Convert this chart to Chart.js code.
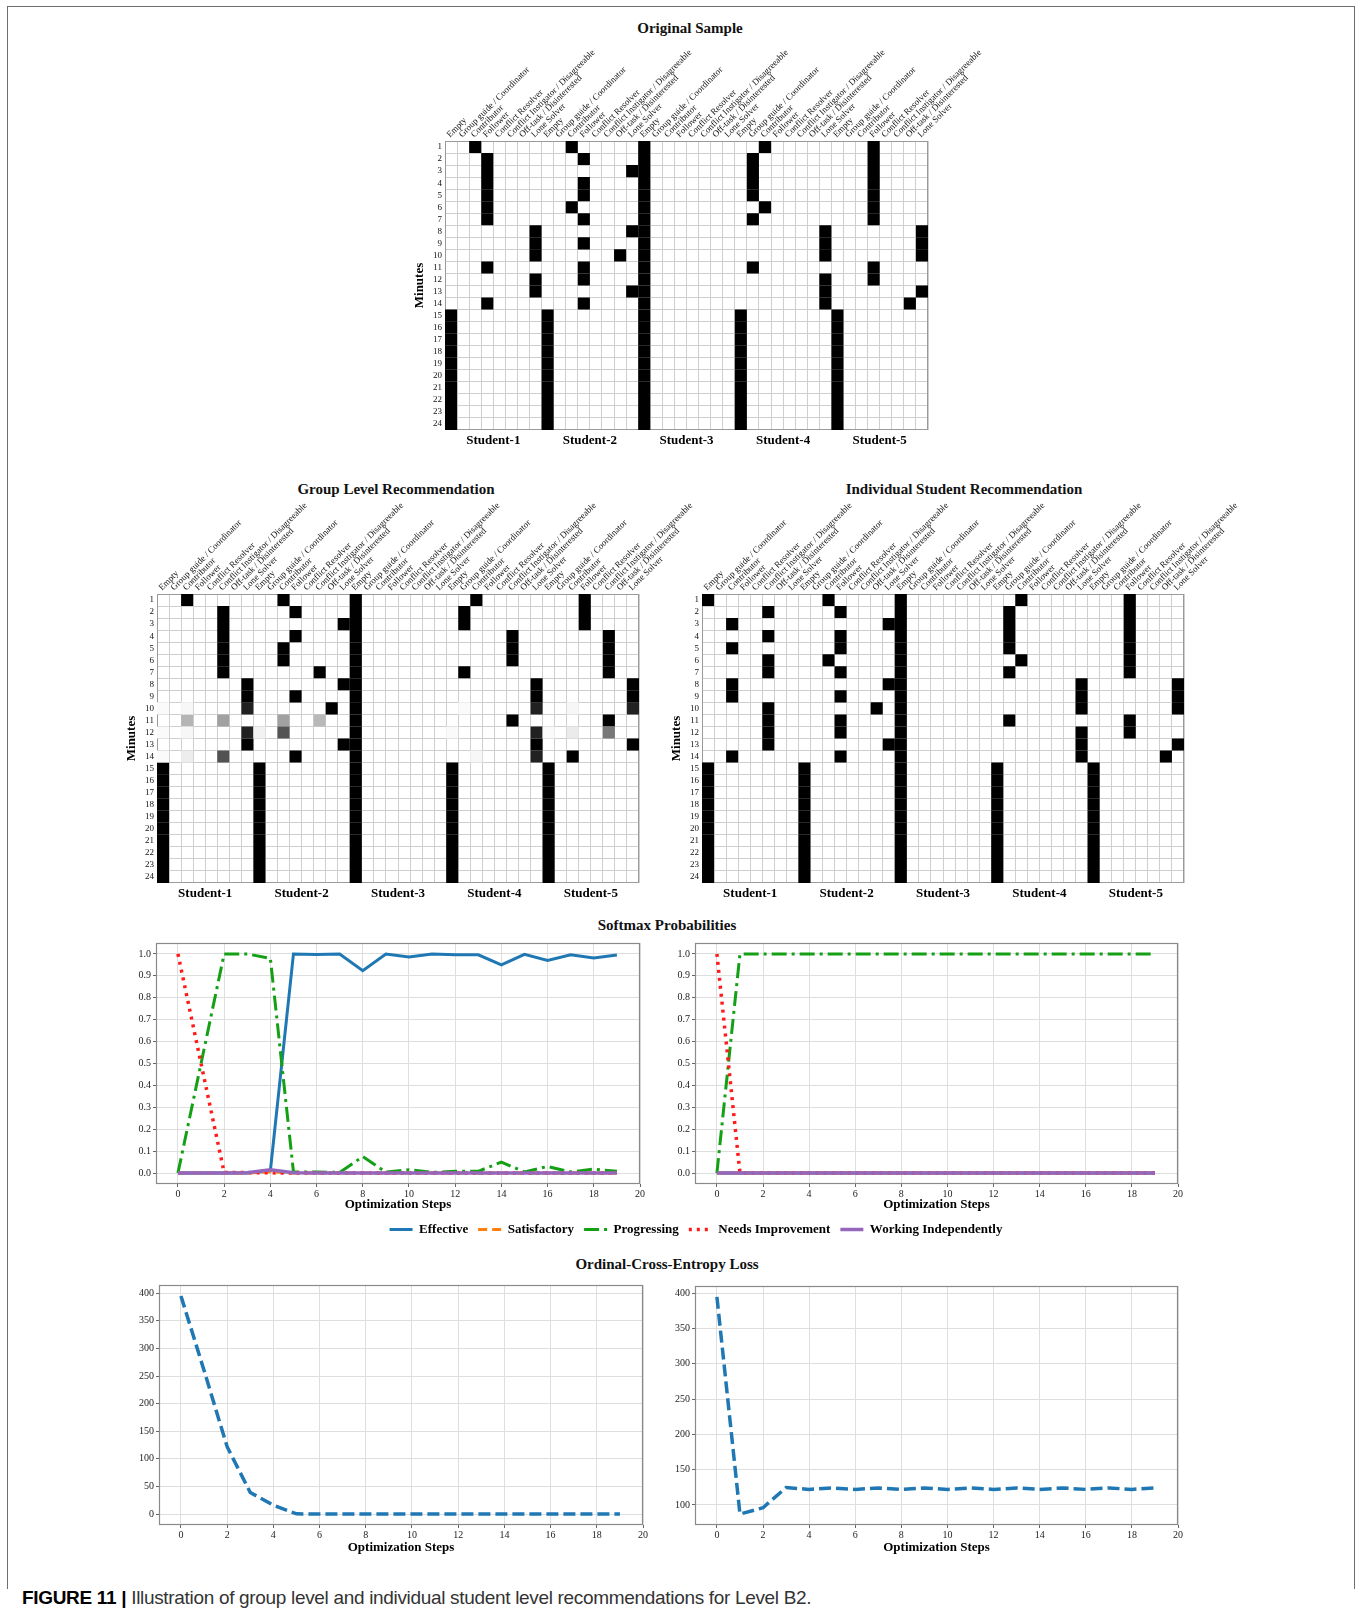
<!DOCTYPE html>
<html>
<head>
<meta charset="utf-8">
<title>Figure 11 - recommendations for Level B2</title>
<script src="https://cdn.jsdelivr.net/npm/chart.js@4.4.1/dist/chart.umd.min.js"></script>
<style>
    html, body { margin: 0; padding: 0; background: #fff; }
    body { position: relative; width: 1362px; height: 1614px; overflow: hidden; }
    canvas { position: absolute; }
    .title { position: absolute; transform: translate(-50%, -50%); font: bold 15px 'Liberation Serif', serif; color: #111; white-space: nowrap; }
    #frame { position: absolute; left: 7px; top: 6px; width: 1346px; height: 1582px; border: 1.5px solid #6e6e6e; border-bottom: none; }
    #caption { position: absolute; left: 22px; top: 1587px; font: 19px 'Liberation Sans Narrow', 'Liberation Sans', sans-serif; letter-spacing: -0.32px; color: #333; white-space: nowrap; }
    #caption b { color: #000; }
</style>
</head>
<body>
<div id="frame"></div>

<div class="title" style="left:690px; top:28px">Original Sample</div>
<div class="title" style="left:396px; top:489px">Group Level Recommendation</div>
<div class="title" style="left:964px; top:489px">Individual Student Recommendation</div>
<div class="title" style="left:667px; top:925px">Softmax Probabilities</div>
<div class="title" style="left:667px; top:1264px">Ordinal-Cross-Entropy Loss</div>

<canvas id="origChart"></canvas>
<canvas id="groupChart"></canvas>
<canvas id="indivChart"></canvas>
<canvas id="probGroupChart"></canvas>
<canvas id="probIndivChart"></canvas>
<canvas id="legendChart"></canvas>
<canvas id="lossGroupChart"></canvas>
<canvas id="lossIndivChart"></canvas>

<div id="caption"><b>FIGURE 11 |</b> Illustration of group level and individual student level recommendations for Level B2.</div>

<script>
// ===================== DATA =====================
const roles = ['Empty', 'Group guide / Coordinator', 'Contributor', 'Follower', 'Conflict Resolver',
    'Conflict Instigator / Disagreeable', 'Off-task / Disinterested', 'Lone Solver'];
const students = ['Student-1', 'Student-2', 'Student-3', 'Student-4', 'Student-5'];
const minutes = ['1', '2', '3', '4', '5', '6', '7', '8', '9', '10', '11', '12',
    '13', '14', '15', '16', '17', '18', '19', '20', '21', '22', '23', '24'];

// role index (into roles) filled for each student at each minute, null = no full cell
const origS1 = [2, 3, 3, 3, 3, 3, 3, 7, 7, 7, 3, 7, 7, 3, 0, 0, 0, 0, 0, 0, 0, 0, 0, 0];
const origS2 = [2, 3, 7, 3, 3, 2, 3, 7, 3, 6, 3, 3, 7, 3, 0, 0, 0, 0, 0, 0, 0, 0, 0, 0];
const origS3 = [0, 0, 0, 0, 0, 0, 0, 0, 0, 0, 0, 0, 0, 0, 0, 0, 0, 0, 0, 0, 0, 0, 0, 0];
const origS4 = [2, 1, 1, 1, 1, 2, 1, 7, 7, 7, 1, 7, 7, 7, 0, 0, 0, 0, 0, 0, 0, 0, 0, 0];
const origS5 = [3, 3, 3, 3, 3, 3, 3, 7, 7, 7, 3, 3, 7, 6, 0, 0, 0, 0, 0, 0, 0, 0, 0, 0];

const groupS1 = [2, 5, 5, 5, 5, 5, 5, 7, 7, null, null, null, 7, null, 0, 0, 0, 0, 0, 0, 0, 0, 0, 0];
const groupS2 = [2, 3, 7, 3, 2, 2, 5, 7, 3, 6, null, null, 7, 3, 0, 0, 0, 0, 0, 0, 0, 0, 0, 0];
const groupS3 = [0, 0, 0, 0, 0, 0, 0, 0, 0, 0, 0, 0, 0, 0, 0, 0, 0, 0, 0, 0, 0, 0, 0, 0];
const groupS4 = [2, 1, 1, 5, 5, 5, 1, 7, 7, null, 5, null, 7, null, 0, 0, 0, 0, 0, 0, 0, 0, 0, 0];
const groupS5 = [3, 3, 3, 5, 5, 5, 5, 7, 7, null, 5, null, 7, 2, 0, 0, 0, 0, 0, 0, 0, 0, 0, 0];
// partial cells: [student, minute, role, darkness 0..1]
const groupShades = [
    [1, 10, 7, 0.87], [1, 12, 7, 0.87], [1, 11, 2, 0.29], [1, 11, 5, 0.37], [1, 14, 5, 0.68],
    [1, 14, 2, 0.07], [1, 10, 2, 0.03], [1, 12, 2, 0.03], [1, 10, 0, 0.02], [1, 12, 0, 0.02], [1, 14, 0, 0.02],
    [2, 11, 2, 0.37], [2, 11, 5, 0.28], [2, 12, 2, 0.67], [2, 12, 0, 0.05],
    [4, 10, 7, 0.87], [4, 12, 7, 0.87], [4, 14, 7, 0.87], [4, 10, 1, 0.02], [4, 12, 0, 0.02], [4, 14, 2, 0.03],
    [5, 10, 7, 0.87], [5, 12, 5, 0.53], [5, 12, 2, 0.08], [5, 10, 2, 0.03], [5, 12, 0, 0.02]
];

const indivS1 = [0, 5, 2, 5, 2, 5, 5, 2, 2, 5, 5, 5, 5, 2, 0, 0, 0, 0, 0, 0, 0, 0, 0, 0];
const indivS2 = [2, 3, 7, 3, 3, 2, 3, 7, 3, 6, 3, 3, 7, 3, 0, 0, 0, 0, 0, 0, 0, 0, 0, 0];
const indivS3 = [0, 0, 0, 0, 0, 0, 0, 0, 0, 0, 0, 0, 0, 0, 0, 0, 0, 0, 0, 0, 0, 0, 0, 0];
const indivS4 = [2, 1, 1, 1, 1, 2, 1, 7, 7, 7, 1, 7, 7, 7, 0, 0, 0, 0, 0, 0, 0, 0, 0, 0];
const indivS5 = [3, 3, 3, 3, 3, 3, 3, 7, 7, 7, 3, 3, 7, 6, 0, 0, 0, 0, 0, 0, 0, 0, 0, 0];

// optimization steps
const steps = [0, 1, 2, 3, 4, 5, 6, 7, 8, 9, 10, 11, 12, 13, 14, 15, 16, 17, 18, 19];
const stepTicks = [0, 2, 4, 6, 8, 10, 12, 14, 16, 18, 20];
const probTicks = [0, 0.1, 0.2, 0.3, 0.4, 0.5, 0.6, 0.7, 0.8, 0.9, 1.0];

// softmax probabilities - group level
const grpEffective = [0, 0, 0, 0, 0.01, 1.0, 0.998, 1.0, 0.924, 1.0, 0.986, 1.0, 0.996, 0.996, 0.95, 0.998, 0.97, 0.996, 0.982, 0.995];
const grpSatisfactory = [0, 0, 0, 0, 0.006, 0, 0, 0, 0, 0, 0, 0, 0, 0, 0, 0, 0, 0, 0, 0];
const grpProgressing = [0, 0.5, 1.0, 1.0, 0.98, 0.005, 0.005, 0.003, 0.075, 0.004, 0.015, 0.003, 0.008, 0.008, 0.05, 0.005, 0.03, 0.005, 0.018, 0.008];
const grpNeedsImprovement = [1.0, 0.5, 0.002, 0.002, 0.001, 0, 0, 0, 0, 0, 0, 0, 0, 0, 0, 0, 0, 0, 0, 0];
const grpWorkingIndep = [0, 0, 0, 0.001, 0.015, 0.001, 0, 0, 0, 0, 0, 0, 0, 0, 0, 0, 0, 0, 0, 0];

// softmax probabilities - individual student
const indEffective = [0, 0, 0, 0, 0, 0, 0, 0, 0, 0, 0, 0, 0, 0, 0, 0, 0, 0, 0, 0];
const indSatisfactory = [0, 0, 0, 0, 0, 0, 0, 0, 0, 0, 0, 0, 0, 0, 0, 0, 0, 0, 0, 0];
const indProgressing = [0, 1.0, 1.0, 1.0, 1.0, 1.0, 1.0, 1.0, 1.0, 1.0, 1.0, 1.0, 1.0, 1.0, 1.0, 1.0, 1.0, 1.0, 1.0, 1.0];
const indNeedsImprovement = [1.0, 0, 0, 0, 0, 0, 0, 0, 0, 0, 0, 0, 0, 0, 0, 0, 0, 0, 0, 0];
const indWorkingIndep = [0, 0, 0, 0, 0, 0, 0, 0, 0, 0, 0, 0, 0, 0, 0, 0, 0, 0, 0, 0];

// ordinal cross entropy loss
const grpLoss = [395, 260, 122, 39, 16, 0.5, 0, 0, 0, 0, 0, 0, 0, 0, 0, 0, 0, 0, 0, 0];
const indLoss = [395, 87, 96, 124.5, 122, 124, 122, 124, 122, 124, 122, 124, 122, 124, 122, 124, 122, 124, 122, 124];
const grpLossTicks = [0, 50, 100, 150, 200, 250, 300, 350, 400];
const indLossTicks = [100, 150, 200, 250, 300, 350, 400];

// ===================== HELPERS =====================
const serif = "'Liberation Serif', 'Times New Roman', serif";
Chart.defaults.font.family = serif;

// one unique label per heatmap column, displayed as the role name
const colLabels = [];
students.forEach(s => roles.forEach(r => colLabels.push(s + ' | ' + r)));

function place(id, area, m) {
    const c = document.getElementById(id);
    c.width = m.l + area.w + m.r;
    c.height = m.t + area.h + m.b;
    c.style.left = (area.x - m.l) + 'px';
    c.style.top = (area.y - m.t) + 'px';
    return c;
}

const framePlugin = {
    id: 'frame',
    beforeDatasetsDraw(chart, args, opts) {
        const { ctx, chartArea: a } = chart;
        ctx.save();
        ctx.strokeStyle = opts.color || '#888';
        ctx.lineWidth = opts.width || 1;
        ctx.strokeRect(a.left + 0.5, a.top + 0.5, a.width - 1, a.height - 1);
        ctx.restore();
    }
};

function cellPoints(rows, shades) {
    const pts = [];
    rows.forEach((arr, s) => {
        arr.forEach((r, m) => {
            if (r !== null) pts.push({ x: colLabels[s * roles.length + r], y: minutes[m], v: 1 });
        });
    });
    shades.forEach(([s, m, r, v]) => {
        pts.push({ x: colLabels[(s - 1) * roles.length + r], y: minutes[m - 1], v: v });
    });
    return pts;
}

function cellRadius(c) {
    const s = c.chart.scales.x;
    return s.width / colLabels.length / Math.SQRT2;
}

function cellColor(c) {
    const v = c.raw ? c.raw.v : 1;
    const g = Math.round(255 * (1 - v));
    return 'rgb(' + g + ',' + g + ',' + g + ')';
}

// ===================== HEATMAPS =====================
function heatmap(id, area, rows, shades) {
    const m = { l: 45, t: 105, r: 95, b: 28 };
    const canvas = place(id, area, m);
    return new Chart(canvas, {
        type: 'scatter',
        data: {
            datasets: [{
                data: cellPoints(rows, shades),
                pointStyle: 'rect',
                pointBorderWidth: 0,
                pointRadius: cellRadius,
                pointHoverRadius: cellRadius,
                pointBackgroundColor: cellColor
            }]
        },
        options: {
            responsive: false,
            animation: false,
            events: [],
            layout: { padding: { left: 0, top: 0, right: m.r, bottom: 0 } },
            plugins: { legend: { display: false }, tooltip: { enabled: false }, frame: { color: '#9a9a9a' } },
            scales: {
                x: {
                    type: 'category', labels: colLabels, position: 'top', offset: true,
                    grid: { offset: true, color: '#cfcfcf', drawTicks: false },
                    border: { display: false },
                    ticks: {
                        autoSkip: false, minRotation: 45, maxRotation: 45, padding: 1, labelOffset: 5, color: '#111',
                        font: { size: 9 },
                        callback: (v, i) => roles[i % roles.length]
                    },
                    afterFit: s => { s.height = m.t; }
                },
                x2: {
                    type: 'category', labels: students, position: 'bottom', offset: true,
                    grid: { display: false, drawTicks: false }, border: { display: false },
                    ticks: { padding: 3, color: '#000', font: { size: 13, weight: 'bold' } },
                    afterFit: s => { s.height = m.b; }
                },
                y: {
                    type: 'category', labels: minutes, offset: true,
                    grid: { offset: true, color: '#cfcfcf', drawTicks: false },
                    border: { display: false },
                    ticks: { autoSkip: false, padding: 3, color: '#111', font: { size: 9 } },
                    title: { display: true, text: 'Minutes', color: '#000', font: { size: 13, weight: 'bold' }, padding: { top: 12, bottom: 0 } },
                    afterFit: s => { s.width = m.l; }
                }
            }
        },
        plugins: [framePlugin]
    });
}

heatmap('origChart', { x: 445, y: 141, w: 483, h: 289 }, [origS1, origS2, origS3, origS4, origS5], []);
heatmap('groupChart', { x: 157, y: 594, w: 482, h: 289 }, [groupS1, groupS2, groupS3, groupS4, groupS5], groupShades);
heatmap('indivChart', { x: 702, y: 594, w: 482, h: 289 }, [indivS1, indivS2, indivS3, indivS4, indivS5], []);

// ===================== LINE CHARTS =====================
function xy(vals) {
    return vals.map((v, i) => ({ x: steps[i], y: v }));
}

function probSets(eff, sat, prog, need, indep, withOrder) {
    const sets = [
        { label: 'Effective', data: xy(eff), borderColor: '#1f77b4', backgroundColor: '#1f77b4', borderWidth: 3, order: 5 },
        { label: 'Satisfactory', data: xy(sat), borderColor: '#ff7f0e', backgroundColor: '#ff7f0e', borderWidth: 3, borderDash: [9, 5], order: 4 },
        { label: 'Progressing', data: xy(prog), borderColor: '#14a014', backgroundColor: '#14a014', borderWidth: 3, borderDash: [15, 5, 3, 5], order: 3 },
        { label: 'Needs Improvement', data: xy(need), borderColor: '#ff1a1a', backgroundColor: '#ff1a1a', borderWidth: 3.5, borderDash: [3, 5], order: 2 },
        { label: 'Working Independently', data: xy(indep), borderColor: '#9467bd', backgroundColor: '#9467bd', borderWidth: 3.5, order: 1 }
    ];
    if (!withOrder) sets.forEach(s => delete s.order);
    return sets;
}

function lineChart(id, area, datasets, yMin, yMax, yTicks, yFmt, xH) {
    const m = { l: 34, t: 10, r: 14, b: xH };
    const canvas = place(id, area, m);
    return new Chart(canvas, {
        type: 'line',
        data: { datasets: datasets },
        options: {
            responsive: false,
            animation: false,
            events: [],
            layout: { padding: { left: 0, top: m.t, right: m.r, bottom: 0 } },
            elements: { point: { radius: 0 }, line: { tension: 0 } },
            plugins: { legend: { display: false }, tooltip: { enabled: false }, frame: { color: '#8a8a8a', width: 1.2 } },
            scales: {
                x: {
                    type: 'linear', min: -0.95, max: 20,
                    afterBuildTicks: s => { s.ticks = stepTicks.map(v => ({ value: v })); },
                    grid: { color: '#dedede', tickColor: '#666', tickLength: 3 },
                    border: { display: false },
                    ticks: { padding: 1, color: '#222', font: { size: 10 }, callback: v => String(v) },
                    title: { display: true, text: 'Optimization Steps', color: '#000', font: { size: 13, weight: 'bold' }, padding: { top: 0, bottom: 4 } },
                    afterFit: s => { s.height = m.b; }
                },
                y: {
                    type: 'linear', min: yMin, max: yMax,
                    afterBuildTicks: s => { s.ticks = yTicks.map(v => ({ value: v })); },
                    grid: { color: '#dedede', tickColor: '#666', tickLength: 3 },
                    border: { display: false },
                    ticks: { padding: 2, color: '#222', font: { size: 10 }, callback: yFmt },
                    afterFit: s => { s.width = m.l; }
                }
            }
        },
        plugins: [framePlugin]
    });
}

const probFmt = v => v.toFixed(1);
const lossFmt = v => String(v);

lineChart('probGroupChart', { x: 156, y: 943, w: 484, h: 241 },
    probSets(grpEffective, grpSatisfactory, grpProgressing, grpNeedsImprovement, grpWorkingIndep, true),
    -0.05, 1.05, probTicks, probFmt, 32);
lineChart('probIndivChart', { x: 695, y: 943, w: 483, h: 241 },
    probSets(indEffective, indSatisfactory, indProgressing, indNeedsImprovement, indWorkingIndep, true),
    -0.05, 1.05, probTicks, probFmt, 32);

const lossStyle = { borderColor: '#1f77b4', backgroundColor: '#1f77b4', borderWidth: 3.5, borderDash: [12, 5] };
lineChart('lossGroupChart', { x: 159, y: 1285, w: 484, h: 240 },
    [Object.assign({ label: 'Loss', data: xy(grpLoss) }, lossStyle)],
    -19.75, 414.75, grpLossTicks, lossFmt, 34);
lineChart('lossIndivChart', { x: 695, y: 1286, w: 483, h: 239 },
    [Object.assign({ label: 'Loss', data: xy(indLoss) }, lossStyle)],
    71.5, 410.4, indLossTicks, lossFmt, 34);

// ===================== SHARED LEGEND =====================
const legendCanvas = place('legendChart', { x: 296, y: 1213, w: 800, h: 70 }, { l: 0, t: 0, r: 0, b: 0 });
new Chart(legendCanvas, {
    type: 'line',
    data: { datasets: probSets([], [], [], [], [], false) },
    options: {
        responsive: false,
        animation: false,
        events: [],
        scales: { x: { display: false }, y: { display: false } },
        plugins: {
            tooltip: { enabled: false },
            legend: {
                position: 'top',
                labels: {
                    usePointStyle: true, pointStyleWidth: 23, padding: 10,
                    color: '#000', font: { size: 13, weight: 'bold' },
                    // line samples keep each series' own dash pattern
                    generateLabels: chart => chart.data.datasets.map((d, i) => ({
                        text: d.label,
                        fillStyle: d.borderColor,
                        strokeStyle: d.borderColor,
                        fontColor: '#000',
                        lineWidth: d.borderWidth,
                        lineDash: d.borderDash || [],
                        lineCap: 'butt',
                        pointStyle: 'line',
                        hidden: false,
                        datasetIndex: i
                    }))
                }
            }
        }
    }
});
</script>
</body>
</html>
